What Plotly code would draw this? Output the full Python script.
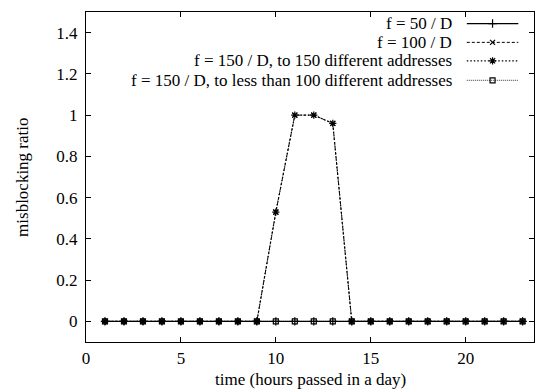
import plotly.graph_objects as go

hours = list(range(1, 24))
f50 = [0]*23
f100 = [0,0,0,0,0,0,0,0,0,0.53,1.0,1.0,0.96,0,0,0,0,0,0,0,0,0,0]
f150_150 = [0,0,0,0,0,0,0,0,0,0.53,1.0,1.0,0.96,0,0,0,0,0,0,0,0,0,0]
f150_100 = [0]*23

names = ["f = 50 / D", "f = 100 / D",
         "f = 150 / D, to 150 different addresses",
         "f = 150 / D, to less than 100 different addresses"]
series = [f50, f100, f150_150, f150_100]
styles = [
    dict(dash="solid", width=1.2, symbol="cross-thin-open", size=6),
    dict(dash="3px,2px", width=1, symbol="x-thin-open", size=5),
    dict(dash="1.5px,2px", width=1.2, symbol="asterisk-open", size=6),
    dict(dash="1px,1px", width=0.8, symbol="square-open", size=5),
]

font = "Liberation Serif"
FS = 17
fig = go.Figure()
for name, ys, st in zip(names, series, styles):
    fig.add_trace(go.Scatter(
        x=hours, y=ys, mode="lines+markers", name=name, showlegend=False,
        line=dict(color="black", dash=st["dash"], width=st["width"]),
        marker=dict(symbol=st["symbol"], size=st["size"], color="black",
                    line=dict(color="black", width=1.2)),
    ))

# manual gnuplot-style legend (text right, sample to the right)
leg_y = [0.965, 0.908, 0.852, 0.793]
for i, (name, st) in enumerate(zip(names, styles)):
    fig.add_annotation(xref="paper", yref="paper", x=0.822, y=leg_y[i],
                       text=name, showarrow=False, xanchor="right",
                       yanchor="middle", font=dict(family=font, size=FS, color="black"))
    fig.add_trace(go.Scatter(
        x=[0.85, 0.965], y=[leg_y[i]]*2, xaxis="x2", yaxis="y2",
        mode="lines", showlegend=False, hoverinfo="skip",
        line=dict(color="black", dash=st["dash"], width=st["width"])))
    fig.add_trace(go.Scatter(
        x=[0.9075], y=[leg_y[i]], xaxis="x2", yaxis="y2",
        mode="markers", showlegend=False, hoverinfo="skip",
        marker=dict(symbol=st["symbol"], size=st["size"], color="black",
                    line=dict(color="black", width=1.2))))

# axis titles
fig.add_annotation(xref="paper", yref="paper", x=0.5, y=-0.115, yanchor="middle",
                   text="time (hours passed in a day)", showarrow=False,
                   font=dict(family=font, size=FS, color="black"))
fig.add_annotation(xref="paper", yref="paper", x=-0.143, y=0.5, textangle=-90,
                   xanchor="center", yanchor="middle",
                   text="misblocking ratio", showarrow=False,
                   font=dict(family=font, size=FS, color="black"))

axis_common = dict(showgrid=False, zeroline=False, showline=True, linecolor="black",
                   linewidth=1.2, mirror="allticks", ticks="inside", ticklen=5,
                   tickcolor="black", automargin=False,
                   tickfont=dict(family=font, size=FS, color="black"))
fig.update_layout(
    width=536, height=390, margin=dict(l=86, r=2, t=12, b=48),
    paper_bgcolor="white", plot_bgcolor="white",
    font=dict(family=font, size=FS, color="black"),
    xaxis=dict(range=[0, 23.6], tickvals=[0, 5, 10, 15, 20], **axis_common),
    yaxis=dict(range=[-0.1, 1.5], tickvals=[0, 0.2, 0.4, 0.6, 0.8, 1, 1.2, 1.4],
               ticktext=["0", "0.2", "0.4", "0.6", "0.8", "1", "1.2", "1.4"],
               ticklabelstandoff=4, **axis_common),
    xaxis2=dict(overlaying="x", range=[0, 1], visible=False, anchor="y2"),
    yaxis2=dict(overlaying="y", range=[0, 1], visible=False, anchor="x2"),
    showlegend=False,
)
fig.write_html("out.html", config={"displayModeBar": False},
               post_script="document.body.style.margin='0';document.body.style.overflow='hidden';")
